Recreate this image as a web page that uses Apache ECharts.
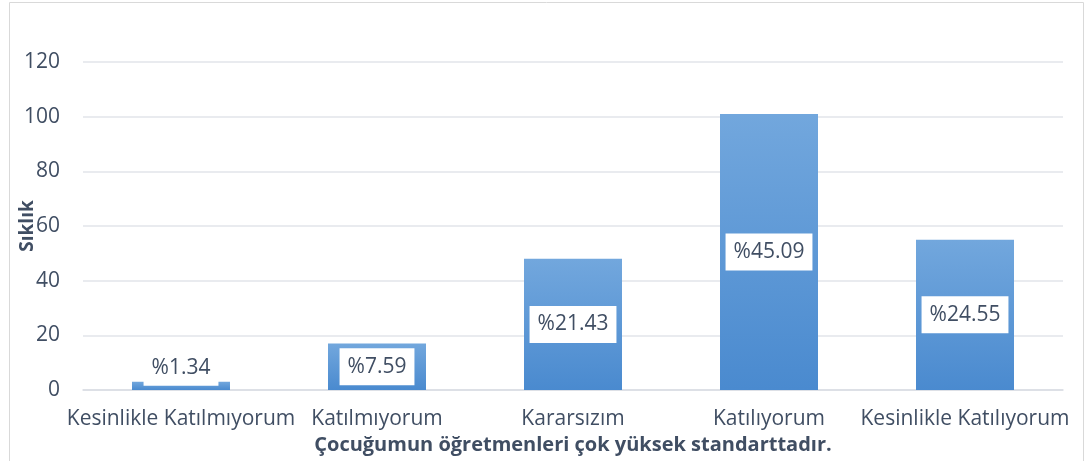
<!DOCTYPE html>
<html>
<head>
<meta charset="utf-8">
<script src="https://cdn.jsdelivr.net/npm/echarts@6/dist/echarts.min.js"></script>
<style>html,body{margin:0;padding:0;background:#fff;}#c{width:1086px;height:461px;}</style>
</head>
<body>
<div id="c"></div>
<script>
const categories = ['Kesinlikle Katılmıyorum', 'Katılmıyorum', 'Kararsızım', 'Katılıyorum', 'Kesinlikle Katılıyorum'];
const counts = [3, 17, 48, 101, 55];
const percents = ['%1.34', '%7.59', '%21.43', '%45.09', '%24.55'];
const yTitle = 'Sıklık';
const xTitle = 'Çocuğumun öğretmenleri çok yüksek standarttadır.';

const font = '"Open Sans", "Noto Sans", sans-serif';
const chart = echarts.init(document.getElementById('c'));
const grad = new echarts.graphic.LinearGradient(0, 0, 0, 1, [
  {offset: 0, color: '#72a7dd'},
  {offset: 1, color: '#4a8acf'}
]);
chart.setOption({
  animation: false,
  graphic: [
    {type: 'rect', shape: {x: 9.5, y: 2.5, width: 1074, height: 470}, style: {fill: 'none', stroke: '#d9d9d9', lineWidth: 1}, silent: true},
    {type: 'text', x: 28, y: 226, rotation: Math.PI / 2, silent: true,
     style: {text: yTitle, fill: '#404e63', font: 'bold 19px "Open Sans", "Noto Sans", sans-serif', align: 'center', verticalAlign: 'middle'}}
  ],
  grid: {left: 83, right: 23, top: 62, bottom: 71, containLabel: false, outerBoundsMode: 'none'},
  xAxis: {
    type: 'category', data: categories,
    axisLine: {lineStyle: {color: '#d9dde3', width: 1.5}},
    axisTick: {show: false},
    axisLabel: {color: '#404e63', fontSize: 21, fontFamily: font, margin: 19, interval: 0},
    name: xTitle, nameLocation: 'middle', nameGap: 42,
    nameTextStyle: {color: '#404e63', fontSize: 20, fontWeight: 'bold', fontFamily: font}
  },
  yAxis: {
    type: 'value', min: 0, max: 120, interval: 20,
    axisLine: {show: false}, axisTick: {show: false},
    splitLine: {lineStyle: {color: '#e2e5ea', width: 1.5}},
    axisLabel: {color: '#404e63', fontSize: 21, fontFamily: font, margin: 23}
  },
  series: [{
    type: 'bar', barWidth: '50%',
    data: counts.map((v, i) => ({
      value: v,
      label: i === 0 ? {position: 'top', distance: -4} : {position: 'inside'}
    })),
    itemStyle: {color: grad},
    label: {
      show: true,
      formatter: p => percents[p.dataIndex],
      color: '#404e63', fontSize: 21, fontFamily: font,
      backgroundColor: '#fff', padding: [9, 8, 7, 8]
    }
  }]
});
</script>
</body>
</html>
